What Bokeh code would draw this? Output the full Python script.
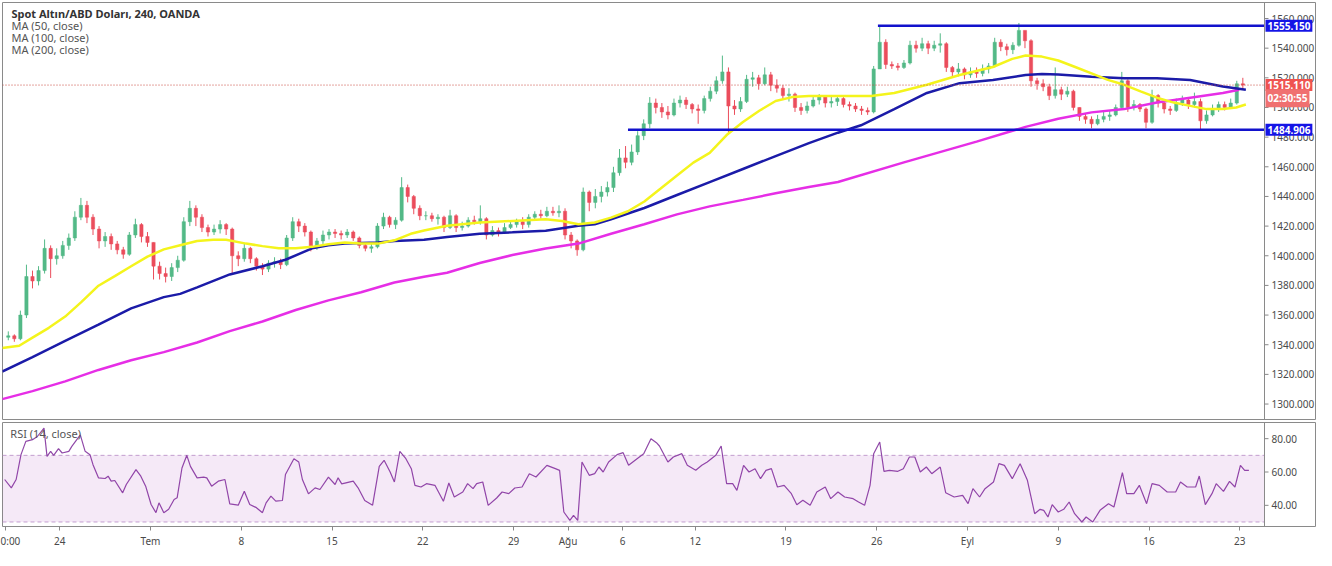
from bokeh.plotting import figure
from bokeh.models import (Range1d, FixedTicker, Span, BoxAnnotation, Label, ColumnDataSource)
from bokeh.layouts import column
from bokeh.embed import file_html
from bokeh.resources import INLINE
from bokeh.core.properties import value

FONT = "Noto Sans"

# ---------------- data (8-hour candles, 3 per trading day) ----------------
first_open = 1345.0
close = [
    1346, 1344, 1360, 1386, 1383, 1390, 1405, 1398, 1400,
    1407, 1412, 1426, 1434, 1426, 1418, 1410, 1413, 1408,
    1404, 1401, 1414, 1421, 1413, 1409, 1393, 1388, 1386,
    1392, 1397, 1423, 1432, 1426, 1419, 1416, 1418, 1421,
    1418, 1400, 1398, 1405, 1398, 1393, 1391, 1395, 1396,
    1394, 1412, 1423, 1420, 1416, 1406, 1410, 1414, 1416,
    1415, 1414, 1416, 1412, 1407, 1405, 1406, 1420, 1426,
    1421, 1424, 1446, 1440, 1432, 1427, 1427, 1425, 1426,
    1419, 1427, 1419, 1420, 1424, 1423, 1425, 1414, 1417,
    1416, 1419, 1421, 1423, 1421, 1426, 1428, 1427, 1430,
    1429, 1430, 1414, 1410, 1404, 1443, 1436, 1440, 1443,
    1446, 1456, 1466, 1463, 1470, 1481, 1489, 1503, 1500,
    1497, 1495, 1503, 1505, 1502, 1499, 1498, 1506, 1511,
    1518, 1524, 1501, 1499, 1504, 1519, 1520, 1516, 1522,
    1515, 1513, 1508, 1509, 1500, 1498, 1501, 1505, 1507,
    1503, 1504, 1506, 1502, 1501, 1499, 1498, 1497, 1526,
    1544, 1529, 1528, 1527, 1530, 1542, 1540, 1543, 1540,
    1542, 1543, 1527, 1524, 1526, 1522, 1524, 1523, 1526,
    1528, 1544, 1541, 1539, 1542, 1552, 1545, 1518, 1516,
    1514, 1508, 1512, 1509, 1511, 1500, 1494, 1492, 1489,
    1492, 1494, 1495, 1500, 1518, 1500, 1502, 1499, 1490,
    1508, 1503, 1499, 1498, 1503, 1505, 1502, 1504, 1491,
    1495, 1499, 1502, 1500, 1503, 1516, 1515.11,
]
high = [
    1349, 1347, 1363, 1394, 1390, 1393, 1411, 1407, 1405,
    1410, 1415, 1430, 1439, 1437, 1428, 1420, 1416, 1415,
    1410, 1406, 1416, 1425, 1422, 1416, 1409, 1396, 1392,
    1395, 1400, 1426, 1437, 1434, 1428, 1421, 1421, 1424,
    1422, 1419, 1403, 1408, 1406, 1399, 1395, 1397, 1399,
    1398, 1414, 1426, 1425, 1422, 1417, 1412, 1417, 1418,
    1418, 1417, 1418, 1417, 1413, 1409, 1408, 1422, 1429,
    1427, 1426, 1453, 1448, 1441, 1434, 1430, 1429, 1428,
    1427, 1431, 1428, 1423, 1426, 1427, 1434, 1426, 1420,
    1419, 1422, 1424, 1425, 1426, 1428, 1430, 1431, 1433,
    1433, 1434, 1432, 1416, 1411, 1446, 1444, 1445, 1447,
    1450, 1460, 1472, 1474, 1475, 1484, 1492, 1507, 1506,
    1503, 1501, 1506, 1508, 1507, 1503, 1502, 1508, 1514,
    1521, 1535, 1527, 1505, 1507, 1522, 1524, 1522, 1527,
    1524, 1519, 1515, 1513, 1510, 1503, 1504, 1508, 1509,
    1508, 1508, 1508, 1507, 1504, 1503, 1501, 1500, 1528,
    1555, 1546, 1531, 1530, 1532, 1545, 1545, 1547, 1545,
    1545, 1550, 1544, 1528, 1530, 1527, 1527, 1527, 1529,
    1530, 1547, 1546, 1543, 1544, 1557, 1552, 1546, 1520,
    1519, 1516, 1527, 1514, 1514, 1512, 1500, 1496, 1494,
    1495, 1497, 1498, 1502, 1524, 1519, 1505, 1503, 1500,
    1512, 1509, 1504, 1501, 1506, 1508, 1507, 1510, 1506,
    1498, 1502, 1504, 1504, 1506, 1518, 1520,
]
low = [
    1343, 1342, 1343, 1358, 1378, 1380, 1388, 1385, 1394,
    1398, 1404, 1410, 1424, 1422, 1414, 1405, 1406, 1404,
    1401, 1398, 1400, 1412, 1409, 1406, 1384, 1384, 1382,
    1383, 1389, 1396, 1420, 1420, 1416, 1413, 1414, 1415,
    1414, 1388, 1393, 1396, 1395, 1390, 1387, 1389, 1392,
    1391, 1393, 1410, 1416, 1413, 1403, 1404, 1408, 1411,
    1412, 1411, 1412, 1410, 1405, 1403, 1402, 1405, 1418,
    1419, 1418, 1423, 1436, 1428, 1424, 1424, 1423, 1421,
    1416, 1418, 1416, 1417, 1419, 1421, 1421, 1411, 1413,
    1413, 1415, 1418, 1419, 1418, 1419, 1424, 1425, 1426,
    1427, 1426, 1411, 1405, 1400, 1403, 1430, 1432, 1436,
    1440, 1443, 1454, 1459, 1461, 1468, 1478, 1486, 1496,
    1493, 1492, 1494, 1500, 1499, 1496, 1489, 1496, 1504,
    1509, 1516, 1482, 1495, 1497, 1503, 1514, 1512, 1515,
    1511, 1510, 1505, 1504, 1497, 1495, 1496, 1500, 1502,
    1500, 1500, 1501, 1500, 1498, 1497, 1495, 1495, 1496,
    1526, 1526, 1526, 1525, 1526, 1529, 1537, 1538, 1536,
    1538, 1537, 1524, 1521, 1521, 1519, 1520, 1520, 1521,
    1523, 1527, 1538, 1535, 1536, 1541, 1540, 1514, 1512,
    1511, 1505, 1506, 1505, 1507, 1498, 1491, 1489, 1486,
    1488, 1490, 1491, 1494, 1499, 1497, 1498, 1497, 1486,
    1489, 1500, 1496, 1495, 1497, 1501, 1499, 1500, 1485,
    1489, 1494, 1497, 1498, 1499, 1502, 1512,
]

ma50_idx = [-1, 1.8, 4, 6.7, 9.4, 12.1, 14.9, 17.6, 20.3, 23, 25.7, 28.4, 31.2, 33.9, 36,
            39.3, 42, 44.7, 47.5, 50.2, 52.9, 55.6, 58.3, 61.1, 63.8, 66.5, 68.7, 72.5, 77.9,
            83.3, 88.8, 91.5, 94.2, 96.9, 99.6, 102.4, 105.1, 107.8, 110.5, 113.2, 115.9,
            118.7, 121.4, 124.1, 126.8, 129.5, 132.3, 137.1, 142.6, 146.4, 151.8, 157.2,
            162.7, 165.9, 168.1, 170.8, 173.5, 176.3, 179, 181.7, 184.4, 187.1, 189.8, 192.6,
            195.3, 198, 200.7, 202.9, 204.5]
ma50_val = [1337.8, 1339.3, 1344.8, 1351.4, 1359, 1368.9, 1379.8, 1386.3, 1392.9, 1399.4,
            1404.3, 1407.1, 1410, 1410.8, 1410.8, 1408.2, 1406.5, 1405, 1405, 1406, 1407.8,
            1408.9, 1408.2, 1408.2, 1410.4, 1414.8, 1417, 1420.2, 1422.4, 1423.5, 1424.6,
            1423.5, 1421.3, 1422.4, 1425.7, 1430, 1436.6, 1445.3, 1454.1, 1462.8, 1469.4,
            1481.4, 1490.2, 1497.8, 1504.4, 1507, 1507.7, 1507.7, 1507.7, 1509.8, 1515.3,
            1521.9, 1527.3, 1532.8, 1535, 1534.3, 1531.7, 1527.3, 1523, 1518.6, 1515.3,
            1510.9, 1506.6, 1503.3, 1501.1, 1498.9, 1498.9, 1500, 1502]

ma100_idx = [-1, 4, 9.4, 14.9, 20.3, 25.7, 28.4, 31.2, 36.6, 42, 45.8, 50.2, 52.9, 55.6,
             58.3, 61.1, 63.8, 68.7, 72.5, 77.9, 83.3, 88.8, 94.2, 96.9, 99.6, 105.1, 110.5,
             115.9, 121.4, 126.8, 132.3, 137.1, 140.9, 146.4, 151.8, 157.2, 162.7, 168.1,
             170.8, 173.5, 179, 184.4, 189.8, 195.3, 200.7, 204.5]
ma100_val = [1321.9, 1331.7, 1342.6, 1353.6, 1364.5, 1372.1, 1374.3, 1378.7, 1387.4, 1392.9,
             1397.3, 1405, 1407.1, 1408.2, 1408.6, 1408.9, 1410, 1410.8, 1412.6, 1414.8,
             1415.8, 1416.9, 1420.2, 1421.3, 1424.6, 1432.2, 1441, 1449.7, 1458.5, 1467.2,
             1476, 1483, 1488, 1498.9, 1509.8, 1516.4, 1518.6, 1521.9, 1522.5, 1522.3,
             1520.8, 1519.7, 1519.7, 1518.6, 1514.2, 1512]

ma200_idx = [-1, 4, 9.4, 14.9, 20.3, 25.7, 31.2, 36.6, 42, 47.5, 52.9, 58.3, 63.8, 68.7,
             72.5, 77.9, 83.3, 88.8, 94.2, 99.6, 105.1, 110.5, 115.9, 121.4, 126.8, 132.3,
             137.1, 148, 160, 168.1, 173.5, 179, 184.4, 189.8, 195.3, 200.7, 203.4]
ma200_val = [1303.3, 1308.7, 1315.3, 1323, 1329.5, 1335, 1341.5, 1349.2, 1355.7, 1363.4,
             1369.9, 1375.4, 1382, 1385.9, 1388.5, 1395.1, 1400.5, 1404.9, 1408.2, 1414.8,
             1421.3, 1427.9, 1433.3, 1437.7, 1442.1, 1446.4, 1449.7, 1463, 1477, 1486.9,
             1492.4, 1496.7, 1498.9, 1503.3, 1506.6, 1509.8, 1512]

rsi_idx = [-0.6, 0.5, 1.3, 2.1, 2.9, 4.0, 4.8, 5.9, 6.4, 7.0, 7.5, 8.3, 8.9, 10.0, 10.5,
           11.9, 12.7, 13.5, 14.0, 14.9, 16.0, 16.5, 17.0, 17.6, 18.9, 19.5, 21.1, 21.9,
           22.7, 23.6, 24.4, 24.9, 25.7, 26.5, 27.4, 27.9, 28.7, 29.5, 30.1, 31.2, 32.3,
           32.8, 33.6, 34.7, 35.8, 36.6, 38.0, 39.0, 39.9, 41.0, 42.0, 42.6, 43.4, 44.2,
           45.3, 45.8, 47.2, 48.0, 48.6, 49.6, 50.7, 51.5, 52.9, 54.0, 54.5, 55.1, 57.0,
           57.8, 58.9, 60.2, 61.3, 62.1, 63.1, 63.8, 64.7, 65.7, 66.6, 67.2, 68.2, 69.1,
           70.5, 71.9, 72.8, 73.7, 75.1, 75.9, 76.8, 77.4, 78.4, 79.3, 80.7, 81.6, 82.7,
           83.7, 84.9, 86.1, 87.2, 89.0, 90.4, 91.1, 91.8, 92.8, 93.4, 94.1, 94.8, 96.0,
           96.9, 97.6, 98.3, 99.2, 100.6, 101.6, 102.5, 103.9, 105.0, 106.2, 107.1, 107.6,
           109.0, 109.9, 111.3, 112.2, 113.6, 114.6, 115.5, 116.9, 117.8, 118.7, 119.7,
           120.4, 121.5, 122.4, 123.4, 124.3, 125.2, 126.1, 127.1, 128.2, 129.4, 130.3,
           131.3, 132.5, 133.6, 135.0, 135.9, 137.1, 138.2, 139.6, 140.5, 141.5, 142.4,
           143.0, 144.0, 144.7, 145.6, 147.0, 147.9, 148.9, 149.8, 150.7, 151.7, 152.6,
           154.0, 154.9, 156.3, 157.7, 158.6, 159.4, 160.5, 161.4, 162.8, 163.7, 164.6,
           165.9, 167.2, 168.4, 169.6, 170.5, 171.1, 171.8, 172.5, 173.5, 174.4, 175.3,
           176.2, 177.4, 178.1, 179.2, 180.4, 181.8, 182.7, 184.1, 184.8, 186.0, 186.9,
           188.1, 189.0, 190.2, 191.5, 192.9, 193.7, 194.8, 196.2, 196.8, 197.8, 198.9,
           199.6, 200.8, 201.8, 202.7, 203.6, 204.3, 205.0]
rsi_val = [55.5, 50.5, 55.5, 70.4, 78.4, 79.4, 81.3, 86.3, 69.4, 72.4, 70, 74, 71.4, 72.4, 75.4,
           82.3, 72.4, 70.4, 64.4, 56.5, 56.1, 57.5, 54.5, 54.9, 47.5, 52.5, 61.4, 57.5,
           51.5, 40.5, 35.6, 41.5, 35.6, 37.6, 43.5, 44.5, 62.4, 70, 63.4, 56.5, 56.9,
           56.5, 51.5, 54.5, 55.5, 40.9, 40.1, 48.5, 40.5, 38.6, 35.6, 41.5, 45.5, 42.5,
           42.9, 58.5, 68, 66, 55.5, 46.9, 50.5, 49.5, 56.9, 52.5, 56.5, 52.9, 54.5,
           50.5, 42.9, 40.1, 63.4, 67, 60, 54, 72.4, 68, 62, 52, 51, 53,
           52, 42.4, 53.4, 45, 48, 53, 50, 53, 54, 40, 44.4, 48, 47,
           50.4, 51, 59, 57, 64, 62, 61, 36, 31, 34, 31, 66, 58,
           59, 63, 60, 66, 70.4, 71.6, 64, 68, 71, 80, 77.6, 75.6,
           66, 69, 71, 64, 61, 64, 66, 70, 75.6, 53, 53,
           49, 64, 60, 62, 56, 61, 62, 51, 52, 47, 40.4,
           43, 40, 48, 51, 44, 48, 45, 44, 42, 40, 52,
           71, 78, 60.4, 61, 60.4, 62, 69, 69, 60, 63, 59,
           63, 47.6, 45, 46, 41, 50, 45, 50, 54, 65, 64,
           56, 65, 55, 35, 37.6, 37, 33, 40.4, 36, 37.6, 42,
           35, 30, 33, 30, 37, 41, 39, 59.6, 47, 47, 52,
           41, 53, 52, 48, 48, 54, 51, 51, 57.6, 40.4, 47,
           53, 48.4, 54.4, 51, 64, 61, 61]

tick_day = [0, 3, 8, 13, 18, 23, 28, 31, 34, 38, 43, 48, 53, 58, 63, 68]
tick_label = ["0:00", "24", "Tem", "8", "15", "22", "29", "Ağu", "6", "12", "19", "26",
              "Eyl", "9", "16", "23"]

price_ticks = [1300, 1320, 1340, 1360, 1380, 1400, 1420, 1440, 1460, 1480, 1500, 1520,
               1540, 1560]
rsi_ticks = [40, 60, 80]
rsi_band = [30, 70]

levels = [1555.150, 1484.906]
level_start_idx = [143.7, 102.4]
last_price = 1515.110
countdown = "02:30:55"

# ---------------- styling ----------------
UP, DOWN = "#53b987", "#eb4d5c"
C_MA50, C_MA100, C_MA200 = "#f4f41c", "#1b1ba8", "#e62ee6"
C_LEVEL = "#1212cc"
C_RSI = "#9049a8"
AXIS_TXT = "#4a4a4a"
BORDER = "#8a8a8a"

CPD = 3  # candles per trading day


def to_day(i):
    return (i + 0.5) / CPD


n = len(close)
opens = [first_open] + close[:-1]
xs = [to_day(i) for i in range(n)]
hi = [max(h, o, c) for h, o, c in zip(high, opens, close)]
lo = [min(l, o, c) for l, o, c in zip(low, opens, close)]
src = ColumnDataSource(dict(
    x=xs, h=hi, l=lo,
    top=[max(o, c) for o, c in zip(opens, close)],
    bottom=[min(o, c) for o, c in zip(opens, close)],
    color=[UP if c >= o else DOWN for o, c in zip(opens, close)],
))

# the frame also covers the price-scale strip on the right
DATA_W = 1262          # px of the chart area
AX_W = 52              # px of the price scale strip
x0, x_data_end = -0.152, 69.36
ppd = DATA_W / (x_data_end - x0)          # px per day
x_end = x_data_end + AX_W / ppd
x_range = Range1d(x0, x_end)
FW = DATA_W + AX_W


def px(d):
    return d / ppd


def scale_strip(fig, ticks, labels):
    fig.add_layout(Span(location=x_data_end, dimension="height", line_color=BORDER,
                        line_width=1))
    fig.segment(x0=[x_data_end] * len(ticks), x1=[x_data_end + px(4)] * len(ticks),
                y0=ticks, y1=ticks, line_color="#888888", line_width=1)
    fig.text(x=[x_data_end + px(7)] * len(ticks), y=ticks, text=labels,
             text_font=value(FONT), text_font_size="10px", text_color=AXIS_TXT,
             text_baseline="middle", text_align="left")


p = figure(frame_width=FW, frame_height=418, x_range=x_range,
           y_range=Range1d(1288.9, 1570.8), x_axis_location=None,
           y_axis_location=None, output_backend="svg", toolbar_location=None,
           min_border_left=2, min_border_top=2, min_border_bottom=0, min_border_right=0,
           background_fill_color="white", border_fill_color="white")
p.outline_line_color = BORDER
p.xgrid.visible = False
p.ygrid.visible = False

# candles
p.segment(x0="x", y0="h", x1="x", y1="l", line_color="color", line_width=1, source=src)
p.vbar(x="x", width=0.18, top="top", bottom="bottom", fill_color="color",
       line_color="color", line_width=0.5, source=src)

# moving averages
p.line([to_day(i) for i in ma200_idx], ma200_val, line_color=C_MA200, line_width=2.5)
p.line([to_day(i) for i in ma100_idx], ma100_val, line_color=C_MA100, line_width=2.5)
p.line([to_day(i) for i in ma50_idx], ma50_val, line_color=C_MA50, line_width=2.5)

# horizontal levels and last-price line
p.segment(x0=[to_day(i) for i in level_start_idx], x1=[x_data_end] * len(levels),
          y0=levels, y1=levels, line_color=C_LEVEL, line_width=2.5)
p.segment(x0=[x0], x1=[x_data_end], y0=[last_price], y1=[last_price],
          line_color="#c9483f", line_dash="1 2", line_width=1)

scale_strip(p, price_ticks, [f"{t:.3f}" for t in price_ticks])

# legend texts
head = [("Spot Altın/ABD Doları, 240, OANDA", 1563.6, "bold", "#333333"),
        ("MA (50, close)", 1555.5, "normal", "#555555"),
        ("MA (100, close)", 1547.4, "normal", "#555555"),
        ("MA (200, close)", 1539.3, "normal", "#555555")]
for txt, yy, style, col in head:
    p.add_layout(Label(x=0.34, y=yy, text=txt, text_font=FONT, text_font_size="11px",
                       text_font_style=style, text_color=col, text_baseline="middle"))

# price tags on the scale
tags = [(f"{levels[0]:.3f}", levels[0], "#1414e6"),
        (f"{levels[1]:.3f}", levels[1], "#1414e6"),
        (f"{last_price:.3f}", last_price, "#ef5350"),
        (countdown, 1506.2, "#f07070")]
for txt, yy, bg in tags:
    p.add_layout(Label(x=x_data_end + px(1), y=yy, text=txt, text_font=FONT,
                       text_font_size="10px", text_font_style="bold", text_color="white",
                       text_baseline="middle", background_fill_color=bg, padding=2))

# ---------------- RSI panel ----------------
r = figure(frame_width=FW, frame_height=104, x_range=x_range, y_range=Range1d(27.3, 89.7),
           y_axis_location=None, output_backend="svg", toolbar_location=None,
           min_border_left=2, min_border_top=2, min_border_right=0, min_border_bottom=0,
           background_fill_color="white", border_fill_color="white")
r.outline_line_color = BORDER
r.xgrid.visible = False
r.ygrid.visible = False
r.add_layout(BoxAnnotation(bottom=rsi_band[0], top=rsi_band[1], left=x0, right=x_data_end,
                           fill_color="#9c27b0", fill_alpha=0.1, line_color=None))
r.segment(x0=[x0] * 2, x1=[x_data_end] * 2, y0=rsi_band, y1=rsi_band,
          line_color="#c6a6d2", line_dash="4 3", line_width=1)
r.line([to_day(i) for i in rsi_idx], rsi_val, line_color=C_RSI, line_width=1.2)
r.add_layout(Label(x=0.28, y=83.3, text="RSI (14, close)", text_font=FONT,
                   text_font_size="11px", text_color="#555555", text_baseline="middle"))
scale_strip(r, rsi_ticks, [f"{t:.2f}" for t in rsi_ticks])

xa = r.xaxis[0]
xa.ticker = FixedTicker(ticks=tick_day)
xa.major_label_overrides = {d: lbl for d, lbl in zip(tick_day, tick_label)}
xa.axis_line_color = None
xa.major_tick_line_color = "#888"
xa.major_tick_out = 4
xa.major_tick_in = 0
xa.minor_tick_line_color = None
xa.major_label_text_font = FONT
xa.major_label_text_font_size = "10px"
xa.major_label_text_color = AXIS_TXT
xa.major_label_standoff = 3

layout = column(p, r, spacing=0)
open("out.html", "w").write(file_html(layout, INLINE))
